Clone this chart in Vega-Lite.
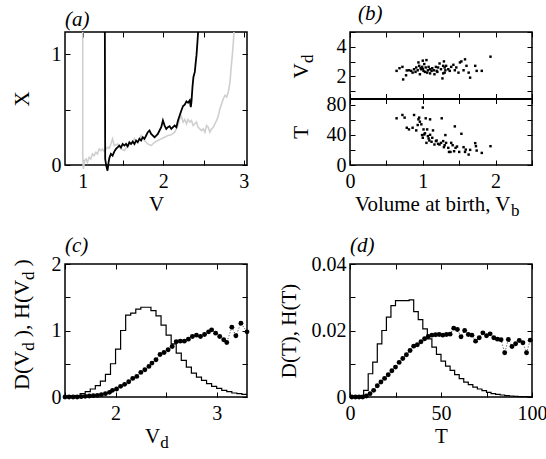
{
"$schema": "https://vega.github.io/schema/vega-lite/v6.json",
"padding": {"left": 9, "top": 2, "right": 5, "bottom": 5},
"background": "white",
"config": {
 "view": {"stroke": "black", "strokeWidth": 1.5},
 "axis": {"labelFont": "Liberation Serif, Times New Roman, serif", "labelFontSize": 20, "labelColor": "black", "titleFont": "Liberation Serif, Times New Roman, serif", "titleFontSize": 21, "titleFontWeight": "normal", "titleColor": "black", "tickSize": -5, "tickColor": "black", "tickWidth": 1, "domain": false, "grid": false, "labelPadding": 9, "labelFlush": false, "labelOverlap": false},
 "axisX": {"labelPadding": 11},
 "title": {"font": "Liberation Serif, Times New Roman, serif", "fontSize": 21, "fontStyle": "italic", "fontWeight": "normal", "anchor": "start", "frame": "group", "offset": -2, "color": "black"}
},
"datasets": {
 "ag": [{"i":0,"V":1.0,"X":1.2},{"i":1,"V":1.0,"X":0.085},{"i":2,"V":1.008,"X":-0.036},{"i":3,"V":1.025,"X":0.039},{"i":4,"V":1.042,"X":0.054},{"i":5,"V":1.058,"X":0.024},{"i":6,"V":1.079,"X":0.069},{"i":7,"V":1.1,"X":0.054},{"i":8,"V":1.121,"X":0.1},{"i":9,"V":1.142,"X":0.085},{"i":10,"V":1.163,"X":0.115},{"i":11,"V":1.183,"X":0.1},{"i":12,"V":1.204,"X":0.145},{"i":13,"V":1.225,"X":0.13},{"i":14,"V":1.246,"X":0.145},{"i":15,"V":1.267,"X":0.121},{"i":16,"V":1.288,"X":0.145},{"i":17,"V":1.308,"X":0.16},{"i":18,"V":1.329,"X":0.151},{"i":19,"V":1.35,"X":0.19},{"i":20,"V":1.371,"X":0.236},{"i":21,"V":1.392,"X":0.175},{"i":22,"V":1.433,"X":0.19},{"i":23,"V":1.475,"X":0.145},{"i":24,"V":1.517,"X":0.13},{"i":25,"V":1.558,"X":0.175},{"i":26,"V":1.6,"X":0.19},{"i":27,"V":1.642,"X":0.236},{"i":28,"V":1.683,"X":0.205},{"i":29,"V":1.725,"X":0.266},{"i":30,"V":1.767,"X":0.221},{"i":31,"V":1.808,"X":0.19},{"i":32,"V":1.85,"X":0.175},{"i":33,"V":1.892,"X":0.205},{"i":34,"V":1.933,"X":0.221},{"i":35,"V":1.975,"X":0.236},{"i":36,"V":2.017,"X":0.251},{"i":37,"V":2.058,"X":0.266},{"i":38,"V":2.1,"X":0.272},{"i":39,"V":2.142,"X":0.296},{"i":40,"V":2.183,"X":0.356},{"i":41,"V":2.204,"X":0.417},{"i":42,"V":2.225,"X":0.441},{"i":43,"V":2.246,"X":0.387},{"i":44,"V":2.267,"X":0.411},{"i":45,"V":2.288,"X":0.372},{"i":46,"V":2.308,"X":0.411},{"i":47,"V":2.329,"X":0.387},{"i":48,"V":2.35,"X":0.402},{"i":49,"V":2.371,"X":0.356},{"i":50,"V":2.392,"X":0.372},{"i":51,"V":2.413,"X":0.387},{"i":52,"V":2.433,"X":0.341},{"i":53,"V":2.454,"X":0.326},{"i":54,"V":2.475,"X":0.311},{"i":55,"V":2.496,"X":0.326},{"i":56,"V":2.517,"X":0.296},{"i":57,"V":2.538,"X":0.356},{"i":58,"V":2.558,"X":0.341},{"i":59,"V":2.579,"X":0.296},{"i":60,"V":2.6,"X":0.326},{"i":61,"V":2.621,"X":0.341},{"i":62,"V":2.642,"X":0.372},{"i":63,"V":2.663,"X":0.402},{"i":64,"V":2.683,"X":0.441},{"i":65,"V":2.704,"X":0.508},{"i":66,"V":2.725,"X":0.553},{"i":67,"V":2.746,"X":0.598},{"i":68,"V":2.767,"X":0.628},{"i":69,"V":2.788,"X":0.613},{"i":70,"V":2.808,"X":0.659},{"i":71,"V":2.829,"X":0.749},{"i":72,"V":2.842,"X":0.87},{"i":73,"V":2.858,"X":0.991},{"i":74,"V":2.871,"X":1.112},{"i":75,"V":2.878,"X":1.2}],
 "ab": [{"V":1.275,"X":1.2},{"V":1.279,"X":0.054},{"V":1.292,"X":-0.006},{"V":1.308,"X":-0.051},{"V":1.321,"X":0.024},{"V":1.333,"X":0.069},{"V":1.35,"X":0.1},{"V":1.371,"X":0.085},{"V":1.392,"X":0.121},{"V":1.413,"X":0.145},{"V":1.433,"X":0.16},{"V":1.454,"X":0.175},{"V":1.475,"X":0.157},{"V":1.496,"X":0.19},{"V":1.517,"X":0.175},{"V":1.538,"X":0.19},{"V":1.558,"X":0.169},{"V":1.579,"X":0.205},{"V":1.6,"X":0.19},{"V":1.621,"X":0.211},{"V":1.642,"X":0.19},{"V":1.663,"X":0.221},{"V":1.683,"X":0.205},{"V":1.704,"X":0.236},{"V":1.725,"X":0.221},{"V":1.746,"X":0.251},{"V":1.767,"X":0.236},{"V":1.788,"X":0.266},{"V":1.808,"X":0.296},{"V":1.829,"X":0.311},{"V":1.85,"X":0.281},{"V":1.871,"X":0.266},{"V":1.892,"X":0.251},{"V":1.913,"X":0.266},{"V":1.933,"X":0.281},{"V":1.954,"X":0.311},{"V":1.975,"X":0.341},{"V":1.996,"X":0.402},{"V":2.017,"X":0.356},{"V":2.038,"X":0.326},{"V":2.058,"X":0.341},{"V":2.079,"X":0.35},{"V":2.1,"X":0.326},{"V":2.121,"X":0.341},{"V":2.142,"X":0.356},{"V":2.163,"X":0.341},{"V":2.183,"X":0.402},{"V":2.204,"X":0.447},{"V":2.225,"X":0.492},{"V":2.246,"X":0.532},{"V":2.267,"X":0.544},{"V":2.288,"X":0.574},{"V":2.308,"X":0.562},{"V":2.329,"X":0.583},{"V":2.342,"X":0.523},{"V":2.35,"X":0.568},{"V":2.363,"X":0.704},{"V":2.375,"X":0.795},{"V":2.392,"X":0.84},{"V":2.404,"X":0.93},{"V":2.413,"X":0.991},{"V":2.425,"X":1.112},{"V":2.433,"X":1.2}],
 "bv": [{"Vb":0.64,"Vd":2.37},{"Vb":0.68,"Vd":2.55},{"Vb":0.72,"Vd":2.64},{"Vb":0.73,"Vd":1.79},{"Vb":0.77,"Vd":2.07},{"Vb":0.78,"Vd":2.4},{"Vb":0.81,"Vd":2.41},{"Vb":0.84,"Vd":2.37},{"Vb":0.86,"Vd":2.25},{"Vb":0.88,"Vd":2.48},{"Vb":0.9,"Vd":2.3},{"Vb":0.91,"Vd":2.6},{"Vb":0.93,"Vd":2.41},{"Vb":0.94,"Vd":2.94},{"Vb":0.95,"Vd":2.71},{"Vb":0.96,"Vd":2.14},{"Vb":0.97,"Vd":2.55},{"Vb":0.98,"Vd":2.48},{"Vb":0.99,"Vd":2.64},{"Vb":1.0,"Vd":3.06},{"Vb":1.0,"Vd":2.5},{"Vb":1.01,"Vd":2.37},{"Vb":1.02,"Vd":2.83},{"Vb":1.03,"Vd":2.3},{"Vb":1.04,"Vd":2.6},{"Vb":1.05,"Vd":3.1},{"Vb":1.06,"Vd":2.25},{"Vb":1.07,"Vd":2.41},{"Vb":1.08,"Vd":2.64},{"Vb":1.1,"Vd":2.48},{"Vb":1.1,"Vd":2.2},{"Vb":1.12,"Vd":2.37},{"Vb":1.13,"Vd":2.55},{"Vb":1.15,"Vd":2.41},{"Vb":1.16,"Vd":2.14},{"Vb":1.18,"Vd":2.64},{"Vb":1.19,"Vd":2.37},{"Vb":1.2,"Vd":2.3},{"Vb":1.21,"Vd":2.6},{"Vb":1.23,"Vd":2.87},{"Vb":1.25,"Vd":2.48},{"Vb":1.27,"Vd":1.86},{"Vb":1.28,"Vd":2.71},{"Vb":1.28,"Vd":2.2},{"Vb":1.29,"Vd":3.01},{"Vb":1.3,"Vd":2.25},{"Vb":1.3,"Vd":2.6},{"Vb":1.31,"Vd":2.41},{"Vb":1.32,"Vd":2.71},{"Vb":1.35,"Vd":2.48},{"Vb":1.37,"Vd":2.37},{"Vb":1.39,"Vd":2.64},{"Vb":1.42,"Vd":2.78},{"Vb":1.44,"Vd":2.41},{"Vb":1.46,"Vd":2.6},{"Vb":1.49,"Vd":2.25},{"Vb":1.51,"Vd":2.94},{"Vb":1.53,"Vd":3.01},{"Vb":1.56,"Vd":2.41},{"Vb":1.58,"Vd":3.15},{"Vb":1.6,"Vd":2.71},{"Vb":1.63,"Vd":2.25},{"Vb":1.65,"Vd":1.91},{"Vb":1.72,"Vd":2.71},{"Vb":1.74,"Vd":2.37},{"Vb":1.81,"Vd":2.37},{"Vb":1.93,"Vd":3.33}],
 "bt": [{"Vb":0.64,"T":61.8},{"Vb":0.72,"T":66.2},{"Vb":0.75,"T":62.7},{"Vb":0.78,"T":49.3},{"Vb":0.81,"T":47.1},{"Vb":0.86,"T":49.3},{"Vb":0.88,"T":66.2},{"Vb":0.91,"T":45.8},{"Vb":0.93,"T":52.9},{"Vb":0.94,"T":60.4},{"Vb":0.95,"T":62.7},{"Vb":0.96,"T":57.3},{"Vb":0.98,"T":53.8},{"Vb":0.99,"T":39.6},{"Vb":1.0,"T":76},{"Vb":1.0,"T":36},{"Vb":1.01,"T":47.1},{"Vb":1.02,"T":40.4},{"Vb":1.03,"T":42},{"Vb":1.04,"T":61.8},{"Vb":1.05,"T":29.3},{"Vb":1.06,"T":47.1},{"Vb":1.07,"T":38.2},{"Vb":1.08,"T":35.1},{"Vb":1.09,"T":32.4},{"Vb":1.1,"T":60.4},{"Vb":1.1,"T":40},{"Vb":1.12,"T":30.7},{"Vb":1.13,"T":36},{"Vb":1.14,"T":45.8},{"Vb":1.16,"T":27.1},{"Vb":1.18,"T":31.6},{"Vb":1.19,"T":32.4},{"Vb":1.21,"T":28},{"Vb":1.23,"T":27.1},{"Vb":1.25,"T":29.3},{"Vb":1.26,"T":61.8},{"Vb":1.28,"T":31.6},{"Vb":1.29,"T":23.6},{"Vb":1.3,"T":26.2},{"Vb":1.31,"T":39.6},{"Vb":1.32,"T":29.3},{"Vb":1.35,"T":22.7},{"Vb":1.36,"T":17.3},{"Vb":1.38,"T":17.3},{"Vb":1.39,"T":29.3},{"Vb":1.41,"T":26.2},{"Vb":1.43,"T":18.2},{"Vb":1.44,"T":51.1},{"Vb":1.45,"T":22.7},{"Vb":1.47,"T":24.4},{"Vb":1.5,"T":17.3},{"Vb":1.53,"T":41.3},{"Vb":1.56,"T":23.6},{"Vb":1.58,"T":17.3},{"Vb":1.59,"T":20.4},{"Vb":1.63,"T":13.8},{"Vb":1.65,"T":20},{"Vb":1.72,"T":28.9},{"Vb":1.73,"T":24.9},{"Vb":1.74,"T":19.1},{"Vb":1.81,"T":16},{"Vb":1.93,"T":24.9}],
 "ch": [{"Vd":1.5,"D":0},{"Vd":1.55,"D":0},{"Vd":1.6,"D":0.02},{"Vd":1.65,"D":0.05},{"Vd":1.7,"D":0.08},{"Vd":1.75,"D":0.12},{"Vd":1.8,"D":0.17},{"Vd":1.85,"D":0.24},{"Vd":1.9,"D":0.34},{"Vd":1.95,"D":0.5},{"Vd":2.0,"D":0.72},{"Vd":2.05,"D":1.0},{"Vd":2.1,"D":1.23},{"Vd":2.15,"D":1.26},{"Vd":2.2,"D":1.32},{"Vd":2.25,"D":1.35},{"Vd":2.3,"D":1.35},{"Vd":2.35,"D":1.3},{"Vd":2.4,"D":1.22},{"Vd":2.45,"D":1.08},{"Vd":2.5,"D":0.93},{"Vd":2.55,"D":0.8},{"Vd":2.6,"D":0.66},{"Vd":2.65,"D":0.55},{"Vd":2.7,"D":0.45},{"Vd":2.75,"D":0.36},{"Vd":2.8,"D":0.3},{"Vd":2.85,"D":0.25},{"Vd":2.9,"D":0.2},{"Vd":2.95,"D":0.16},{"Vd":3.0,"D":0.13},{"Vd":3.05,"D":0.1},{"Vd":3.1,"D":0.08},{"Vd":3.15,"D":0.06},{"Vd":3.2,"D":0.05},{"Vd":3.25,"D":0.04},{"Vd":3.3,"D":0.04}],
 "cd": [{"Vd":1.5,"H":0},{"Vd":1.54,"H":0},{"Vd":1.58,"H":0},{"Vd":1.62,"H":0},{"Vd":1.66,"H":0.005},{"Vd":1.7,"H":0.01},{"Vd":1.74,"H":0.015},{"Vd":1.78,"H":0.02},{"Vd":1.82,"H":0.025},{"Vd":1.86,"H":0.035},{"Vd":1.9,"H":0.05},{"Vd":1.94,"H":0.07},{"Vd":1.97,"H":0.1},{"Vd":2.01,"H":0.12},{"Vd":2.05,"H":0.16},{"Vd":2.09,"H":0.19},{"Vd":2.13,"H":0.23},{"Vd":2.17,"H":0.28},{"Vd":2.21,"H":0.31},{"Vd":2.25,"H":0.37},{"Vd":2.29,"H":0.41},{"Vd":2.33,"H":0.46},{"Vd":2.36,"H":0.51},{"Vd":2.4,"H":0.56},{"Vd":2.44,"H":0.64},{"Vd":2.48,"H":0.67},{"Vd":2.52,"H":0.71},{"Vd":2.56,"H":0.76},{"Vd":2.6,"H":0.83},{"Vd":2.64,"H":0.84},{"Vd":2.68,"H":0.84},{"Vd":2.72,"H":0.87},{"Vd":2.76,"H":0.91},{"Vd":2.8,"H":0.93},{"Vd":2.84,"H":0.91},{"Vd":2.88,"H":0.94},{"Vd":2.92,"H":0.98},{"Vd":2.95,"H":1.01},{"Vd":2.99,"H":0.96},{"Vd":3.03,"H":0.91},{"Vd":3.07,"H":0.86},{"Vd":3.1,"H":0.82},{"Vd":3.15,"H":1.05},{"Vd":3.19,"H":0.92},{"Vd":3.24,"H":1.11},{"Vd":3.3,"H":0.98}],
 "dh": [{"T":0,"D":0},{"T":2.5,"D":0},{"T":5,"D":0},{"T":7.5,"D":0.002},{"T":10,"D":0.007},{"T":12.5,"D":0.0105},{"T":15,"D":0.016},{"T":17.5,"D":0.02},{"T":20,"D":0.024},{"T":22.5,"D":0.0275},{"T":25,"D":0.029},{"T":27.5,"D":0.029},{"T":30,"D":0.029},{"T":32.5,"D":0.0292},{"T":35,"D":0.0257},{"T":37.5,"D":0.0233},{"T":40,"D":0.0205},{"T":42.5,"D":0.0175},{"T":45,"D":0.015},{"T":47.5,"D":0.0128},{"T":50,"D":0.0108},{"T":52.5,"D":0.0093},{"T":55,"D":0.008},{"T":57.5,"D":0.0067},{"T":60,"D":0.0055},{"T":62.5,"D":0.0045},{"T":65,"D":0.0037},{"T":67.5,"D":0.003},{"T":70,"D":0.0024},{"T":72.5,"D":0.0019},{"T":75,"D":0.0014},{"T":77.5,"D":0.001},{"T":80,"D":0.0008},{"T":82.5,"D":0.0006},{"T":85,"D":0.0004},{"T":87.5,"D":0.0003},{"T":90,"D":0.0002},{"T":92.5,"D":0.0001},{"T":95,"D":0.0001},{"T":97.5,"D":0.00005},{"T":100,"D":0.00005}],
 "dd": [{"T":1,"H":0},{"T":3,"H":0},{"T":5,"H":0},{"T":7,"H":0},{"T":9,"H":0.0003},{"T":11,"H":0.001},{"T":13,"H":0.002},{"T":15,"H":0.0034},{"T":17,"H":0.0045},{"T":19,"H":0.0056},{"T":21,"H":0.0067},{"T":23,"H":0.0079},{"T":25,"H":0.009},{"T":27,"H":0.0104},{"T":29,"H":0.0116},{"T":31,"H":0.0127},{"T":33,"H":0.014},{"T":35,"H":0.0153},{"T":37,"H":0.0157},{"T":39,"H":0.0166},{"T":41,"H":0.0175},{"T":43,"H":0.0182},{"T":45,"H":0.0186},{"T":47,"H":0.0187},{"T":49,"H":0.0188},{"T":51,"H":0.0186},{"T":53,"H":0.0188},{"T":55,"H":0.0189},{"T":57,"H":0.0207},{"T":59,"H":0.0203},{"T":61,"H":0.0181},{"T":63,"H":0.02},{"T":65,"H":0.0188},{"T":67,"H":0.0186},{"T":69,"H":0.0168},{"T":71,"H":0.0178},{"T":73,"H":0.0193},{"T":75,"H":0.0184},{"T":77,"H":0.019},{"T":79,"H":0.0178},{"T":81,"H":0.0174},{"T":83,"H":0.0172},{"T":85,"H":0.0133},{"T":87,"H":0.0173},{"T":89,"H":0.0152},{"T":91,"H":0.016},{"T":93,"H":0.017},{"T":95,"H":0.0163},{"T":97,"H":0.0133},{"T":99,"H":0.0171}]
},
"columns": 2,
"bounds": "flush",
"spacing": {"row": 99, "column": 103},
"concat": [
 {
  "width": 182, "height": 133,
  "title": {"text": "(a)"},
  "layer": [
   {"data": {"name": "ag"}, "mark": {"type": "line", "color": "#cfcfcf", "strokeWidth": 1.6},
    "encoding": {
     "x": {"field": "V", "type": "quantitative", "scale": {"domain": [0.78, 3.04], "nice": false, "zero": false},
       "axis": {"orient": "bottom", "values": [1, 1.5, 2, 2.5, 3], "labelExpr": "abs(datum.value-round(datum.value))<1e-6 ? format(datum.value,'d') : ''", "title": "V", "titleX": 91, "titleY": 45, "titleAlign": "center", "titleBaseline": "alphabetic"}},
     "y": {"field": "X", "type": "quantitative", "scale": {"domain": [0, 1.2], "nice": false, "zero": false},
       "axis": {"orient": "left", "values": [0, 0.5, 1], "labelExpr": "abs(datum.value-round(datum.value))<1e-6 ? format(datum.value,'d') : ''", "title": "X", "titleX": -37, "titleY": 66.5, "titleAngle": 270, "titleAlign": "center", "titleBaseline": "alphabetic"}},
     "order": {"field": "i", "type": "quantitative"}
    }},
   {"data": {"name": "ab"}, "mark": {"type": "line", "color": "black", "strokeWidth": 1.8},
    "encoding": {
     "x": {"field": "V", "type": "quantitative", "scale": {"domain": [0.78, 3.04], "nice": false, "zero": false},
       "axis": {"orient": "top", "values": [1, 1.5, 2, 2.5, 3], "labels": false, "title": null}},
     "y": {"field": "X", "type": "quantitative", "scale": {"domain": [0, 1.2], "nice": false, "zero": false},
       "axis": {"orient": "right", "values": [0, 0.5, 1], "labels": false, "title": null}}
    }}
  ],
  "resolve": {"axis": {"x": "independent", "y": "independent"}}
 },
 {
  "width": 182, "height": 133,
  "title": {"text": "(b)", "dx": 8},
  "layer": [
   {"layer": [
     {"data": {"name": "bv"}, "mark": {"type": "point", "shape": "square", "filled": true, "color": "black", "size": 6, "opacity": 1},
      "encoding": {
       "x": {"field": "Vb", "type": "quantitative", "scale": {"domain": [0, 2.5], "nice": false, "zero": false},
         "axis": {"orient": "bottom", "values": [0, 0.5, 1, 1.5, 2, 2.5], "labelExpr": "abs(datum.value-round(datum.value))<1e-6 ? format(datum.value,'d') : ''", "title": "Volume at birth, V", "titleX": 160, "titleY": 45, "titleAlign": "right", "titleBaseline": "alphabetic"}},
       "y": {"field": "Vd", "type": "quantitative", "scale": {"domain": [0.5, 5], "range": [66.5, 0], "nice": false, "zero": false},
         "axis": {"orient": "left", "values": [1, 2, 3, 4, 5], "labelExpr": "datum.value % 2 == 0 ? format(datum.value,'d') : ''", "title": "V", "titleX": -43, "titleY": 46, "titleAngle": 270, "titleAlign": "left", "titleBaseline": "alphabetic"}}
      }},
     {"data": {"name": "bv"}, "mark": {"type": "point", "opacity": 0},
      "encoding": {
       "x": {"field": "Vb", "type": "quantitative", "scale": {"domain": [0, 2.5], "nice": false, "zero": false},
         "axis": {"orient": "top", "values": [0, 0.5, 1, 1.5, 2, 2.5], "labels": false, "title": null}},
       "y": {"field": "Vd", "type": "quantitative",
         "axis": {"orient": "right", "values": [1, 2, 3, 4, 5], "labels": false, "title": null}}
      }},
     {"data": {"name": "bv"}, "mark": {"type": "point", "opacity": 0},
      "encoding": {
       "x": {"field": "Vb", "type": "quantitative",
         "axis": {"orient": "bottom", "labels": false, "ticks": false, "title": "b", "titleFontSize": 17, "titleX": 160.5, "titleY": 50, "titleAlign": "left", "titleBaseline": "alphabetic"}},
       "y": {"field": "Vd", "type": "quantitative",
         "axis": {"orient": "left", "labels": false, "ticks": false, "title": "d", "titleFontSize": 17, "titleX": -38, "titleY": 30.5, "titleAngle": 270, "titleAlign": "left", "titleBaseline": "alphabetic"}}
      }}
    ],
    "resolve": {"scale": {"y": "shared"}, "axis": {"x": "independent", "y": "independent"}}
   },
   {"layer": [
     {"data": {"name": "bt"}, "mark": {"type": "point", "shape": "square", "filled": true, "color": "black", "size": 6, "opacity": 1},
      "encoding": {
       "x": {"field": "Vb", "type": "quantitative", "scale": {"domain": [0, 2.5], "nice": false, "zero": false},
         "axis": {"orient": "top", "offset": -66.5, "values": [0, 0.5, 1, 1.5, 2, 2.5], "labels": false, "title": null, "domain": true, "domainColor": "black", "domainWidth": 2}},
       "y": {"field": "T", "type": "quantitative", "scale": {"domain": [0, 88], "range": [133, 66.5], "nice": false, "zero": false},
         "axis": {"orient": "left", "values": [0, 20, 40, 60, 80], "labelExpr": "datum.value % 40 == 0 ? format(datum.value,'d') : ''", "title": "T", "titleX": -43, "titleY": 99.75, "titleAngle": 270, "titleAlign": "center", "titleBaseline": "alphabetic"}}
      }},
     {"data": {"name": "bt"}, "mark": {"type": "point", "opacity": 0},
      "encoding": {
       "x": {"field": "Vb", "type": "quantitative",
         "axis": {"orient": "bottom", "offset": -66.5, "values": [0, 0.5, 1, 1.5, 2, 2.5], "labels": false, "title": null}},
       "y": {"field": "T", "type": "quantitative",
         "axis": {"orient": "right", "values": [0, 20, 40, 60, 80], "labels": false, "title": null}}
      }}
    ],
    "resolve": {"scale": {"y": "shared"}, "axis": {"x": "independent", "y": "independent"}}
   }
  ],
  "resolve": {"scale": {"y": "independent"}, "axis": {"x": "independent", "y": "independent"}}
 },
 {
  "width": 182, "height": 133,
  "title": {"text": "(c)"},
  "layer": [
   {"data": {"name": "ch"}, "mark": {"type": "line", "interpolate": "step-after", "color": "black", "strokeWidth": 1.2},
    "encoding": {
     "x": {"field": "Vd", "type": "quantitative", "scale": {"domain": [1.5, 3.3], "nice": false, "zero": false},
       "axis": {"orient": "bottom", "values": [1.5, 2, 2.5, 3], "labelExpr": "abs(datum.value-round(datum.value))<1e-6 ? format(datum.value,'d') : ''", "title": "V", "titleX": 79.6, "titleY": 45, "titleAlign": "left", "titleBaseline": "alphabetic"}},
     "y": {"field": "D", "type": "quantitative", "scale": {"domain": [0, 2], "nice": false, "zero": false},
       "axis": {"orient": "left", "values": [0, 0.5, 1, 1.5, 2], "labelExpr": "abs(datum.value-round(datum.value))<1e-6 ? format(datum.value,'d') : ''", "title": "D(V", "titleFontSize": 22, "titleX": -37, "titleY": 125.4, "titleAngle": 270, "titleAlign": "left", "titleBaseline": "alphabetic"}}
    }},
   {"data": {"name": "cd"}, "mark": {"type": "line", "color": "black", "strokeWidth": 0.8, "strokeDash": [1, 2]},
    "encoding": {
     "x": {"field": "Vd", "type": "quantitative",
       "axis": {"orient": "bottom", "labels": false, "ticks": false, "title": "d", "titleFontSize": 17, "titleX": 94.8, "titleY": 50, "titleAlign": "left", "titleBaseline": "alphabetic"}},
     "y": {"field": "H", "type": "quantitative",
       "axis": {"orient": "left", "labels": false, "ticks": false, "title": "d", "titleFontSize": 17, "titleX": -32, "titleY": 86.3, "titleAngle": 270, "titleAlign": "left", "titleBaseline": "alphabetic"}}
    }},
   {"data": {"name": "cd"}, "mark": {"type": "circle", "color": "black", "size": 24, "opacity": 1},
    "encoding": {
     "x": {"field": "Vd", "type": "quantitative",
       "axis": {"orient": "top", "values": [1.5, 2, 2.5, 3], "labels": false, "title": null}},
     "y": {"field": "H", "type": "quantitative",
       "axis": {"orient": "right", "values": [0, 0.5, 1, 1.5, 2], "labels": false, "title": null}}
    }},
   {"data": {"name": "cd"}, "mark": {"type": "point", "opacity": 0},
    "encoding": {
     "x": {"field": "Vd", "type": "quantitative", "axis": null},
     "y": {"field": "H", "type": "quantitative",
       "axis": {"orient": "left", "labels": false, "ticks": false, "title": "), H(V", "titleFontSize": 22, "titleX": -37, "titleY": 72.8, "titleAngle": 270, "titleAlign": "left", "titleBaseline": "alphabetic"}}
    }},
   {"data": {"name": "cd"}, "mark": {"type": "point", "opacity": 0},
    "encoding": {
     "x": {"field": "Vd", "type": "quantitative", "axis": null},
     "y": {"field": "H", "type": "quantitative",
       "axis": {"orient": "left", "labels": false, "ticks": false, "title": "d", "titleFontSize": 17, "titleX": -32, "titleY": 15.4, "titleAngle": 270, "titleAlign": "left", "titleBaseline": "alphabetic"}}
    }},
   {"data": {"name": "cd"}, "mark": {"type": "point", "opacity": 0},
    "encoding": {
     "x": {"field": "Vd", "type": "quantitative", "axis": null},
     "y": {"field": "H", "type": "quantitative",
       "axis": {"orient": "left", "labels": false, "ticks": false, "title": ")", "titleFontSize": 22, "titleX": -37, "titleY": 1.9, "titleAngle": 270, "titleAlign": "left", "titleBaseline": "alphabetic"}}
    }}
  ],
  "resolve": {"axis": {"x": "independent", "y": "independent"}}
 },
 {
  "width": 182, "height": 133,
  "title": {"text": "(d)"},
  "layer": [
   {"data": {"name": "dh"}, "mark": {"type": "line", "interpolate": "step-after", "color": "black", "strokeWidth": 1.2},
    "encoding": {
     "x": {"field": "T", "type": "quantitative", "scale": {"domain": [0, 100], "nice": false, "zero": false},
       "axis": {"orient": "bottom", "values": [0, 25, 50, 75, 100], "labelExpr": "datum.value % 50 == 0 ? format(datum.value,'d') : ''", "title": "T", "titleX": 91, "titleY": 45, "titleAlign": "center", "titleBaseline": "alphabetic"}},
     "y": {"field": "D", "type": "quantitative", "scale": {"domain": [0, 0.04], "nice": false, "zero": false},
       "axis": {"orient": "left", "values": [0, 0.01, 0.02, 0.03, 0.04], "labelExpr": "datum.value == 0 ? '0' : (abs(datum.value*50-round(datum.value*50))<1e-6 ? format(datum.value,'.2f') : '')", "title": "D(T), H(T)", "titleX": -55, "titleY": 66.5, "titleAngle": 270, "titleAlign": "center", "titleBaseline": "alphabetic"}}
    }},
   {"data": {"name": "dd"}, "mark": {"type": "line", "color": "black", "strokeWidth": 0.8, "strokeDash": [1, 2]},
    "encoding": {
     "x": {"field": "T", "type": "quantitative", "axis": null},
     "y": {"field": "H", "type": "quantitative", "axis": null}
    }},
   {"data": {"name": "dd"}, "mark": {"type": "circle", "color": "black", "size": 24, "opacity": 1},
    "encoding": {
     "x": {"field": "T", "type": "quantitative",
       "axis": {"orient": "top", "values": [0, 25, 50, 75, 100], "labels": false, "title": null}},
     "y": {"field": "H", "type": "quantitative",
       "axis": {"orient": "right", "values": [0, 0.01, 0.02, 0.03, 0.04], "labels": false, "title": null}}
    }}
  ],
  "resolve": {"axis": {"x": "independent", "y": "independent"}}
 }
]
}
